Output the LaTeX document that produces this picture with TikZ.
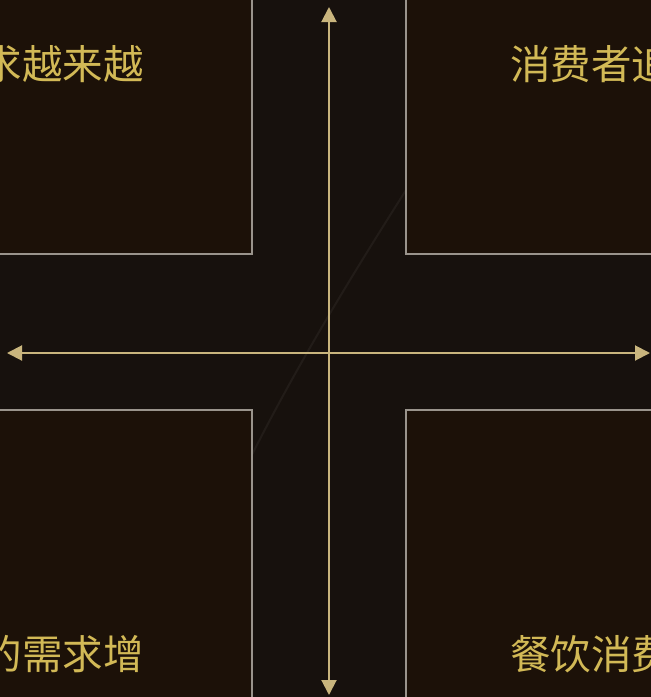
\documentclass[tikz,border=0pt]{standalone}
\usepackage{fontspec}
\newfontfamily\cjk{Noto Sans CJK SC}
\usetikzlibrary{arrows.meta}
\definecolor{bgc}{HTML}{17110D}
\definecolor{boxfill}{HTML}{1C1108}
\definecolor{boxline}{HTML}{9A948C}
\definecolor{axisc}{HTML}{C9B57D}
\definecolor{textc}{HTML}{D2B956}
\definecolor{streak}{HTML}{221C18}
\tikzset{
  quad/.style={draw=boxline, fill=boxfill, line width=1.3pt, minimum width=262pt, minimum height=300pt, inner sep=0pt},
  axisline/.style={draw=axisc, line width=2pt, {Triangle[length=15pt,width=15pt]}-{Triangle[length=15pt,width=15pt]}},
  label/.style={text=textc, font=\cjk\fontsize{40.5pt}{44pt}\selectfont, inner sep=0pt}
}
\begin{document}
\begin{tikzpicture}[x=1pt,y=-1pt]
\fill[bgc] (0,0) rectangle (651,697);
\useasboundingbox (0,0) rectangle (651,697);
\draw[streak, line width=2pt] (470,90) .. controls (400,200) and (300,350) .. (230,500);
\node[quad] (tl) at (121,104) {};
\node[quad] (tr) at (537,104) {};
\node[quad] (bl) at (121,560) {};
\node[quad] (br) at (537,560) {};
\coordinate (up) at (329,7);
\coordinate (down) at (329,695);
\coordinate (left) at (7,353);
\coordinate (right) at (650,353);
\draw[axisline] (down) -- (up);
\draw[axisline] (left) -- (right);
\node[label, anchor=base east] (t1) at (144,79) {求越来越};
\node[label, anchor=base west] (t2) at (510,79) {消费者追};
\node[label, anchor=base east] (t3) at (144,669) {的需求增};
\node[label, anchor=base west] (t4) at (510,669) {餐饮消费};
\end{tikzpicture}
\end{document}
